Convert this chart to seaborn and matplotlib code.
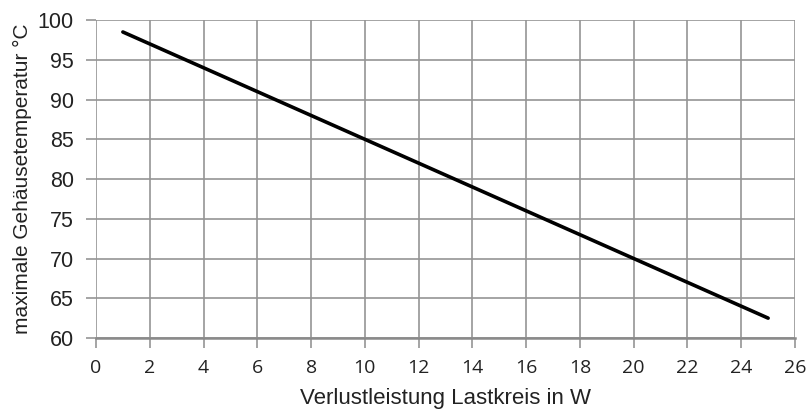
import numpy as np
import pandas as pd
import matplotlib
matplotlib.use("Agg")
import matplotlib.pyplot as plt
import seaborn as sns

# values
leistung = [1, 5, 10, 15, 20, 25]
temperatur = [98.5, 92.5, 85.0, 77.5, 70.0, 62.5]
x_ticks = list(range(0, 27, 2))
y_ticks = list(range(60, 101, 5))

df = pd.DataFrame({"P": leistung, "T": temperatur})

sns.set_style("white")
plt.rcParams['font.family'] = ['Liberation Sans', 'DejaVu Sans']

fig = plt.figure(figsize=(8.1, 4.18), dpi=100)
ax = fig.add_axes([0.1185, 0.1914, 0.863, 0.7606])

sns.lineplot(data=df, x="P", y="T", ax=ax, color="black", linewidth=2.6)

ax.set_xlim(0, 26)
ax.set_ylim(60, 100)
ax.set_xticks(x_ticks)
ax.set_yticks(y_ticks)
ax.grid(True, color="#959595", linewidth=1.2)
for s in ax.spines.values():
    s.set_visible(False)
ax.spines["bottom"].set_visible(True)
ax.spines["bottom"].set_color("#8a8a8a")
ax.spines["bottom"].set_linewidth(1.8)
ax.tick_params(axis="both", bottom=True, left=True, direction="out",
               length=7, width=1.2, color="#959595")
ax.tick_params(axis="x", pad=8)
ax.tick_params(axis="y", pad=9)

for lab in ax.get_xticklabels():
    lab.set_family(['Open Sans', 'DejaVu Sans'])
    lab.set_fontsize(14)
    lab.set_color("#222222")
for lab in ax.get_yticklabels():
    lab.set_fontsize(15.5)
    lab.set_color("#222222")

ax.set_xlabel("Verlustleistung Lastkreis in W", fontsize=16, color="#222222", labelpad=8)
ax.set_ylabel("maximale Gehäusetemperatur °C", fontsize=15, color="#222222", labelpad=4)

fig.savefig("out.png", dpi=100)
